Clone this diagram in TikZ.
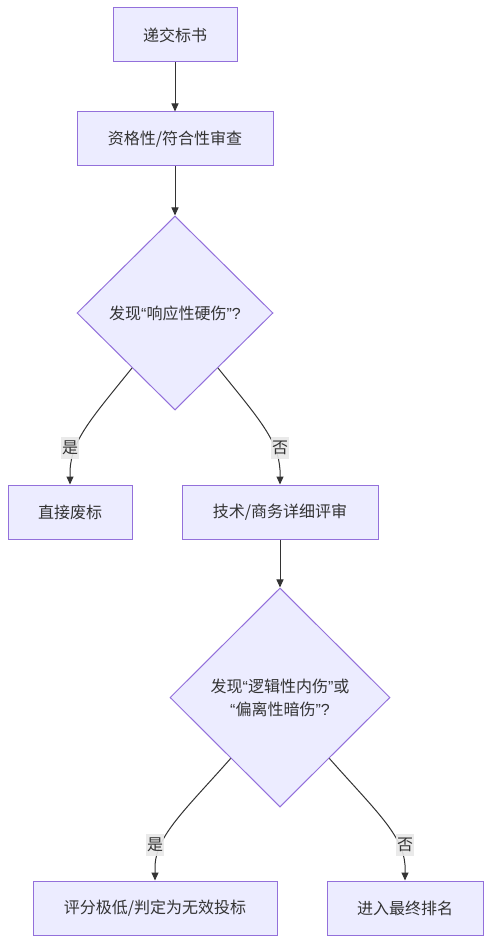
\documentclass[tikz,border=0pt]{standalone}
\usepackage{fontspec}
\setmainfont{Noto Sans CJK SC}
\newfontfamily\lat{Liberation Sans}
\usetikzlibrary{arrows.meta,shapes.geometric}
\definecolor{nodefill}{HTML}{ECECFF}
\definecolor{nodeline}{HTML}{9370DB}
\definecolor{edgecol}{HTML}{333333}
\definecolor{lblfill}{HTML}{E8E8E8}
\definecolor{txt}{HTML}{333333}
\newcommand{\myLq}{{\lat “}}
\newcommand{\myRq}{{\lat ”}}
\newcommand{\myQm}{{\lat ?}}
\tikzset{
  box/.style={draw=nodeline,fill=nodefill,line width=1pt,rectangle,inner sep=0pt,
    text=txt,font=\fontsize{16}{20}\selectfont,align=center},
  dia/.style={draw=nodeline,fill=nodefill,line width=1pt,diamond,inner sep=0pt,
    text=txt,font=\fontsize{16}{23}\selectfont,align=center},
  edge/.style={draw=edgecol,line width=1pt,-{Triangle[length=8pt,width=7pt]}},
  lbl/.style={fill=lblfill,fill opacity=0.9,text opacity=1,text=txt,inner sep=1pt,
    font=\fontsize{16}{20}\selectfont,minimum height=22pt,minimum width=16pt}
}
\begin{document}
\begin{tikzpicture}[x=1pt,y=-1pt]
\useasboundingbox (0,0) rectangle (491,944);
\node[box,minimum width=124pt,minimum height=54pt] (A) at (175,35) {递交标书};
\node[box,minimum width=196pt,minimum height=54pt] (B) at (175,139) {资格性/符合性审查};
\node[dia,minimum width=196pt,minimum height=194pt] (C) at (175,313) {发现\myLq 响应性硬伤\myRq\myQm};
\node[box,minimum width=124pt,minimum height=54pt] (D) at (70,512) {直接废标};
\node[box,minimum width=196pt,minimum height=54pt] (E) at (280,512) {技术/商务详细评审};
\node[dia,minimum width=220pt,minimum height=219pt] (F) at (280,697.5) {发现\myLq 逻辑性内伤\myRq 或\\\myLq 偏离性暗伤\myRq\myQm};
\node[box,minimum width=244pt,minimum height=54pt] (G) at (155,908) {评分极低/判定为无效投标};
\node[box,minimum width=156pt,minimum height=54pt] (H) at (405,908) {进入最终排名};

\draw[edge] (A) -- (B);
\draw[edge] (B) -- (C);
\draw[edge] (C.-128) .. controls (90,420) and (72,440) .. (70,470) -- (D.north);
\draw[edge] (C.-52) .. controls (260,420) and (278,440) .. (280,470) -- (E.north);
\draw[edge] (E) -- (F);
\draw[edge] (F.-129) .. controls (185,810) and (157,835) .. (155,865) -- (G.north);
\draw[edge] (F.-51) .. controls (375,810) and (403,835) .. (405,865) -- (H.north);

\node[lbl] (l1) at (70,448) {是};
\node[lbl] (l2) at (280,448) {否};
\node[lbl] (l3) at (155,845) {是};
\node[lbl] (l4) at (405,845) {否};
\end{tikzpicture}
\end{document}
